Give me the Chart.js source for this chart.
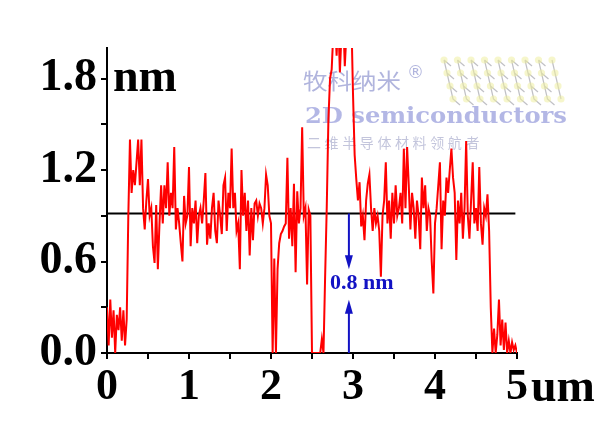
<!DOCTYPE html>
<html>
<head>
<meta charset="utf-8">
<script src="https://cdn.jsdelivr.net/npm/chart.js@4.4.1/dist/chart.umd.min.js"></script>
<style>
html, body { margin: 0; padding: 0; background: #fff; }
canvas { display: block; }
</style>
</head>
<body>
<canvas id="profileChart" width="600" height="424"></canvas>
<script>
// height profile (nm), one sample every 0.02 um from 0 to 5 um
var sampleStep = 0.02;
var heights = [
  0.30, 0.05, 0.35, 0.10, 0.28, 0.00, 0.25, 0.15, 0.30, 0.08,
  0.28, 0.05, 0.22, 0.90, 1.40, 1.05, 1.20, 1.10, 1.25, 1.40,
  1.10, 1.40, 0.95, 0.81, 1.00, 1.14, 0.90, 0.95, 0.70, 0.59,
  0.97, 0.55, 0.85, 1.10, 0.85, 1.10, 0.95, 1.25, 0.90, 1.05,
  0.95, 1.35, 0.81, 0.95, 0.85, 0.72, 0.60, 1.03, 0.85, 0.90,
  1.22, 0.70, 0.95, 0.85, 1.00, 0.72, 0.90, 0.95, 0.85, 1.00,
  1.18, 0.71, 0.85, 0.75, 0.95, 1.05, 0.80, 0.72, 1.00, 0.90,
  0.78, 1.10, 1.15, 0.80, 1.05, 0.95, 1.34, 0.95, 1.05, 0.80,
  0.85, 0.55, 1.20, 0.90, 1.05, 0.80, 1.00, 0.64, 0.95, 0.74,
  0.98, 1.00, 0.90, 0.98, 0.95, 0.85, 0.95, 1.17, 1.10, 0.90,
  0.85, 0.00, 0.62, 0.00, 0.55, 0.72, 0.78, 0.80, 0.83, 0.85,
  1.28, 0.75, 0.95, 0.70, 1.11, 0.53, 1.06, 0.85, 0.95, 1.48,
  0.90, 0.95, 0.45, 0.94, 0.90, 0.00, 0.00, 0.00, 0.00, 0.00,
  0.00, 0.09, 0.00, 0.50, 0.96, 1.53, 1.80, 1.86, 2.10, 2.20,
  1.95, 2.20, 1.84, 2.10, 2.20, 1.88, 2.10, 2.30, 2.40, 2.20,
  1.70, 1.30, 1.14, 1.00, 1.12, 0.83, 0.90, 0.74, 1.00, 1.11,
  1.17, 0.95, 0.80, 0.95, 0.85, 0.90, 0.80, 0.50, 0.90, 1.00,
  1.25, 0.85, 1.00, 0.75, 1.05, 0.85, 1.10, 0.90, 0.95, 1.05,
  0.85, 1.34, 0.95, 1.35, 1.10, 0.81, 1.05, 0.95, 0.75, 1.00,
  0.90, 0.68, 1.15, 0.95, 1.10, 0.80, 0.95, 0.90, 0.60, 0.39,
  0.85, 0.95, 1.10, 1.25, 0.68, 1.00, 0.90, 1.15, 1.05, 1.20,
  1.34, 1.15, 1.05, 0.61, 1.00, 0.85, 1.05, 0.75, 0.95, 1.39,
  0.90, 0.75, 1.00, 1.25, 0.85, 0.95, 0.80, 1.22, 0.85, 0.71,
  0.95, 0.90, 1.04, 0.80, 0.30, 0.00, 0.16, 0.00, 0.12, 0.35,
  0.05, 0.22, 0.02, 0.20, 0.00, 0.08, 0.00, 0.07, 0.02, 0.05, 0.00
];

// tick labels
var xLabels = [0, 1, 2, 3, 4, 5];
var yLabels = [0.0, 0.6, 1.2, 1.8];

// flake level line and step marker
var levelY = 0.915;
var levelX = [0, 4.98];
var markerX = 2.95;
var upperTip = 0.55;
var lowerTip = 0.35;
var stepText = '0.8 nm';
var stepTextX = 2.72;
var stepTextY = 0.42;

var serif = '"Liberation Serif", "Times New Roman", serif';
var blue = '#1212c4';

var profile = heights.map(function (h, i) {
  return { x: +(i * sampleStep).toFixed(2), y: h };
});

function arrow(ctx, x, yFrom, yTip) {
  var dir = yTip > yFrom ? 1 : -1;
  ctx.beginPath();
  ctx.moveTo(x, yFrom);
  ctx.lineTo(x, yTip - dir * 10);
  ctx.stroke();
  ctx.beginPath();
  ctx.moveTo(x, yTip);
  ctx.lineTo(x - 4, yTip - dir * 14);
  ctx.lineTo(x + 4, yTip - dir * 14);
  ctx.closePath();
  ctx.fill();
}

// text squeezed/stretched to a given width
function fitText(ctx, text, x, y, width) {
  var w = ctx.measureText(text).width;
  ctx.save();
  ctx.translate(x, y);
  ctx.scale(width / w, 1);
  ctx.fillText(text, 0, 0);
  ctx.restore();
}

// little lattice picture of the logo
function lattice(ctx) {
  ctx.save();
  ctx.globalAlpha = 0.55;
  ctx.strokeStyle = '#8c8c96';
  ctx.lineWidth = 1.2;
  for (var c = 0; c < 9; c++) {
    var x0 = 444 + c * 13.5;
    ctx.beginPath();
    for (var k = 0; k < 4; k++) {
      var x = x0 + k * 3, y = 60 + k * 13;
      if (k === 0) ctx.moveTo(x, y); else ctx.lineTo(x, y);
      if (c < 8) { ctx.moveTo(x, y); ctx.lineTo(x + 7, y + 6); ctx.moveTo(x, y); }
    }
    ctx.stroke();
  }
  ctx.fillStyle = '#eeeea0';
  for (c = 0; c < 9; c++) {
    for (k = 0; k < 4; k++) {
      ctx.beginPath();
      ctx.arc(444 + c * 13.5 + k * 3, 60 + k * 13, 3.6, 0, Math.PI * 2);
      ctx.fill();
    }
  }
  ctx.restore();
}

var extras = {
  id: 'extras',
  beforeDatasetsDraw: function (chart) {
    // faint watermark behind the trace
    var ctx = chart.ctx;
    ctx.save();
    ctx.textBaseline = 'alphabetic';
    lattice(ctx);
    ctx.fillStyle = 'rgba(150,155,210,0.75)';
    ctx.font = '22px "Noto Sans CJK SC", sans-serif';
    fitText(ctx, '牧科纳米', 303, 89, 98);
    ctx.font = '17px "DejaVu Sans", sans-serif';
    ctx.fillText('®', 407, 78);
    ctx.fillStyle = 'rgba(160,165,222,0.8)';
    ctx.font = 'bold 22px "DejaVu Serif", serif';
    fitText(ctx, '2D semiconductors', 305, 123, 262);
    ctx.fillStyle = 'rgba(170,172,205,0.7)';
    ctx.font = '14px "Noto Sans CJK SC", sans-serif';
    var sub = '二维半导体材料领航者';
    for (var i = 0; i < sub.length; i++) {
      ctx.fillText(sub[i], 307 + i * 17.6, 148);
    }
    ctx.restore();
  },
  afterDatasetsDraw: function (chart) {
    var ctx = chart.ctx;
    var xs = chart.scales.x, ys = chart.scales.y;
    var px = xs.getPixelForValue(markerX);
    ctx.save();
    ctx.strokeStyle = blue;
    ctx.fillStyle = blue;
    ctx.lineWidth = 2;
    arrow(ctx, px, ys.getPixelForValue(levelY), ys.getPixelForValue(upperTip));
    arrow(ctx, px, ys.getPixelForValue(0), ys.getPixelForValue(lowerTip));
    ctx.font = 'bold 22px ' + serif;
    ctx.textBaseline = 'alphabetic';
    ctx.fillText(stepText, xs.getPixelForValue(stepTextX), ys.getPixelForValue(stepTextY));

    // unit labels
    ctx.fillStyle = '#000';
    ctx.font = 'bold 46px ' + serif;
    ctx.fillText('nm', chart.chartArea.left + 6, 91);
    ctx.fillText('um', chart.chartArea.right + 14, 401);
    ctx.restore();
  }
};

var ctx = document.getElementById('profileChart').getContext('2d');
var chart = new Chart(ctx, {
  type: 'line',
  data: {
    datasets: [{
      data: profile,
      borderColor: '#ff0000',
      borderWidth: 2,
      pointRadius: 0,
      tension: 0
    }, {
      data: [{ x: levelX[0], y: levelY }, { x: levelX[1], y: levelY }],
      borderColor: '#000',
      borderWidth: 2,
      pointRadius: 0
    }]
  },
  options: {
    responsive: false,
    animation: false,
    layout: { padding: { top: 48, right: 83, left: 0, bottom: 0 } },
    plugins: { legend: { display: false }, tooltip: { enabled: false } },
    scales: {
      x: {
        type: 'linear',
        min: 0,
        max: 5,
        afterFit: function (s) { s.height = 71; },
        border: { color: '#000', width: 2 },
        grid: { drawOnChartArea: false, color: '#000', lineWidth: 2, tickLength: 6 },
        ticks: {
          stepSize: 0.5,
          autoSkip: false,
          maxRotation: 0,
          padding: 2,
          color: '#000',
          font: { family: serif, size: 44, weight: 'bold' },
          callback: function (v) {
            var hit = xLabels.find(function (l) { return Math.abs(l - v) < 1e-6; });
            return hit === undefined ? '' : String(hit);
          }
        }
      },
      y: {
        min: 0,
        max: 2.0,
        afterFit: function (s) { s.width = 107; },
        border: { color: '#000', width: 2 },
        grid: { drawOnChartArea: false, color: '#000', lineWidth: 2, tickLength: 6 },
        ticks: {
          stepSize: 0.3,
          includeBounds: false,
          autoSkip: false,
          padding: 4,
          color: '#000',
          font: { family: serif, size: 46, weight: 'bold' },
          callback: function (v) {
            var hit = yLabels.find(function (l) { return Math.abs(l - v) < 1e-6; });
            return hit === undefined ? '' : hit.toFixed(1);
          }
        }
      }
    }
  },
  plugins: [extras]
});
</script>
</body>
</html>
